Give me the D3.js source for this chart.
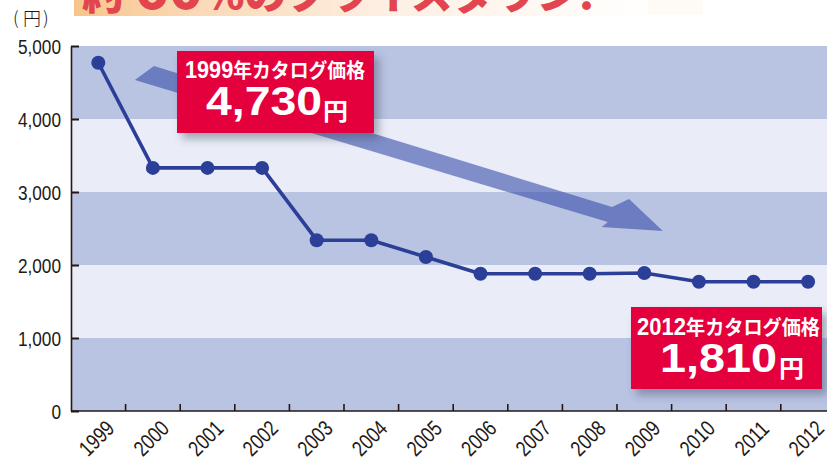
<!DOCTYPE html>
<html><head><meta charset="utf-8">
<script src="https://cdn.jsdelivr.net/npm/d3@7"></script>
<style>
html,body{margin:0;padding:0;background:#fff;}
svg{display:block;}
</style></head>
<body>
<svg id="chart" width="827" height="462"></svg>
<script>
// ---- data ----
const years = ["1999","2000","2001","2002","2003","2004","2005","2006","2007","2008","2009","2010","2011","2012"];
const prices = [4770, 3330, 3330, 3330, 2340, 2340, 2110, 1880, 1880, 1880, 1890, 1770, 1770, 1770];
const yTicks = [0, 1000, 2000, 3000, 4000, 5000];
const yUnit = "円";
const titleParts = ["約", "60", "%のプライスダウン!"];
const calloutTitles = ["1999年カタログ価格", "2012年カタログ価格"];
const calloutNumbers = ["4,730", "1,810"];
// arrow outline in (fractional year index, value) space
const arrowShape = [[1.02,4726],[9.41,2795],[9.72,2904],[10.34,2466],[9.22,2521],[9.33,2589],[0.67,4534]];

// ---- layout ----
const svg = d3.select("#chart");
const pLeft = 71, pTop = 46, pBottom = 411, bandW = 54.6;
const x = d3.scaleBand().domain(years).range([pLeft, pLeft + bandW * years.length]).padding(0);
const y = d3.scaleLinear().domain([0, 5000]).range([pBottom, pTop]);
const xi = i => x(years[0]) + x.bandwidth() * (i + 0.5);
const ink = "#231815";
const dark = "#b9c3e2", light = "#eaedf7";
const red = "#e4003e";

const defs = svg.append("defs");
const tg = defs.append("linearGradient").attr("id","tg").attr("x1","0").attr("x2","1").attr("y1","0").attr("y2","0");
tg.append("stop").attr("offset","0").attr("stop-color","#f7c58b");
tg.append("stop").attr("offset","0.2").attr("stop-color","#fad8b4");
tg.append("stop").attr("offset","0.55").attr("stop-color","#fdf0e4");
tg.append("stop").attr("offset","1").attr("stop-color","#ffffff");
const f = defs.append("filter").attr("id","sh").attr("x","-20%").attr("y","-20%").attr("width","150%").attr("height","160%");
f.append("feDropShadow").attr("dx",5).attr("dy",6).attr("stdDeviation",4).attr("flood-color","#3a3f5a").attr("flood-opacity",0.4);

function condense(sel, k) {
  sel.each(function(){
    const w = this.getComputedTextLength();
    d3.select(this).attr("textLength", w * k).attr("lengthAdjust", "spacingAndGlyphs");
  });
}

// ---- title (clipped at top, as in the original) ----
svg.append("rect").attr("x",74).attr("y",0).attr("width",580).attr("height",16).attr("fill","url(#tg)");
svg.append("rect").attr("x",648).attr("y",0).attr("width",55).attr("height",15).attr("fill","#fefaf6");
const tt = svg.append("text").attr("x",82).attr("y",9)
  .attr("font-family","'Noto Sans CJK JP', sans-serif").attr("font-weight",900)
  .attr("fill","#e2454f").attr("textLength",513).attr("lengthAdjust","spacingAndGlyphs");
tt.append("tspan").attr("font-size",40).text(titleParts[0]);
tt.append("tspan").attr("font-size",54).attr("dx",10).text(titleParts[1]);
tt.append("tspan").attr("font-size",40).text(titleParts[2]);

// ---- background bands ----
const bands = yTicks.slice(0, -1).map((v, i) => ({v0: v, v1: yTicks[i + 1], i}));
svg.append("g").selectAll("rect").data(bands).join("rect")
  .attr("x", pLeft).attr("width", 827 - pLeft)
  .attr("y", d => y(d.v1)).attr("height", d => y(d.v0) - y(d.v1))
  .attr("fill", d => d.i % 2 === 0 ? dark : light);

// ---- arrow ----
svg.append("polygon")
  .attr("points", arrowShape.map(([i, v]) => [xi(i), y(v)].join(",")).join(" "))
  .attr("fill", "#324aa7").attr("fill-opacity", 0.58);

// ---- axes ----
const yAxis = d3.axisLeft(y).tickValues(yTicks).tickSizeInner(-8).tickSizeOuter(0).tickPadding(10)
  .tickFormat(d3.format(","));
const gy = svg.append("g").attr("transform", `translate(${pLeft},0)`).call(yAxis);
gy.select(".domain").attr("stroke", ink).attr("stroke-width", 1.6);
gy.selectAll(".tick line").attr("stroke", ink).attr("stroke-width", 2);
gy.selectAll(".tick text").attr("fill", ink).attr("font-family", "'Liberation Sans', Arial, sans-serif")
  .attr("font-size", 20).attr("dy", "0.36em");
condense(gy.selectAll(".tick text"), 0.86);

// x axis: baseline + tick marks at band boundaries
svg.append("line").attr("x1", pLeft).attr("x2", 827).attr("y1", pBottom).attr("y2", pBottom)
  .attr("stroke", ink).attr("stroke-width", 1.6);
svg.append("g").selectAll("line").data(years.slice(1)).join("line")
  .attr("x1", d => x(d)).attr("x2", d => x(d)).attr("y1", pBottom).attr("y2", pBottom - 7)
  .attr("stroke", ink).attr("stroke-width", 1.6);
const xl = svg.append("g").selectAll("text").data(years).join("text")
  .attr("transform", d => `translate(${x(d) + x.bandwidth() / 2 - 2},438) rotate(-45)`)
  .attr("text-anchor", "middle").attr("dy", "0.36em")
  .attr("font-family", "'Liberation Sans', Arial, sans-serif").attr("font-size", 22).attr("fill", ink)
  .text(d => d);
condense(xl, 0.8);

// unit label
const ul = svg.append("text").attr("y", 25).attr("font-family", "'Noto Sans CJK JP', sans-serif")
  .attr("font-size", 18).attr("font-weight", 300).attr("fill", ink);
ul.append("tspan").attr("x", 13).text("(");
ul.append("tspan").attr("x", 23).text(yUnit);
ul.append("tspan").attr("x", 43).text(")");

// ---- line + points ----
const pts = years.map((yr, i) => ({yr, v: prices[i]}));
svg.append("path").datum(pts)
  .attr("d", d3.line().x(d => x(d.yr) + x.bandwidth() / 2).y(d => y(d.v)))
  .attr("fill", "none").attr("stroke", "#2c3f98").attr("stroke-width", 3.6).attr("stroke-linejoin", "round");
svg.append("g").selectAll("circle").data(pts).join("circle")
  .attr("cx", d => x(d.yr) + x.bandwidth() / 2).attr("cy", d => y(d.v)).attr("r", 7)
  .attr("fill", "#2c3f98");

// ---- callouts ----
const callouts = [
  {rect: [177, 51, 197, 82], title: calloutTitles[0], num: calloutNumbers[0], tx: 185, tw: 180, tb: 78, nx: 206, nw: 116, nb: 115, ux: 323, ub: 120},
  {rect: [631, 307, 191, 82], title: calloutTitles[1], num: calloutNumbers[1], tx: 637, tw: 183, tb: 335, nx: 660, nw: 117, nb: 372, ux: 779, ub: 377}
];
callouts.forEach(c => {
  const g = svg.append("g");
  g.append("rect").attr("x", c.rect[0]).attr("y", c.rect[1]).attr("width", c.rect[2]).attr("height", c.rect[3])
    .attr("fill", red).attr("filter", "url(#sh)");
  const m = c.title.match(/^(\d+)(.*)$/);
  const t = g.append("text").attr("x", c.tx).attr("y", c.tb).attr("fill", "#fff").attr("font-weight", "bold")
    .attr("font-family", "'Liberation Sans', 'Noto Sans CJK JP', sans-serif")
    .attr("textLength", c.tw).attr("lengthAdjust", "spacingAndGlyphs");
  t.append("tspan").attr("font-size", 23).text(m[1]);
  t.append("tspan").attr("font-size", 20).attr("font-family", "'Noto Sans CJK JP', sans-serif").text(m[2]);
  g.append("text").attr("x", c.nx).attr("y", c.nb).attr("fill", "#fff").attr("font-weight", "bold")
    .attr("font-family", "'Liberation Sans', Arial, sans-serif").attr("font-size", 41)
    .attr("textLength", c.nw).attr("lengthAdjust", "spacingAndGlyphs").text(c.num);
  g.append("text").attr("x", c.ux).attr("y", c.ub).attr("fill", "#fff").attr("font-weight", "bold")
    .attr("font-family", "'Noto Sans CJK JP', sans-serif").attr("font-size", 24)
    .attr("textLength", 25).attr("lengthAdjust", "spacingAndGlyphs").text(yUnit);
});
</script>
</body></html>
